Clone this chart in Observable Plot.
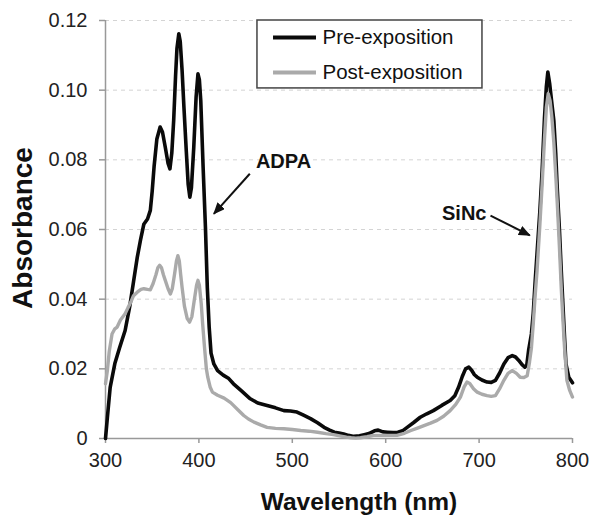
<!DOCTYPE html>
<html><head><meta charset="utf-8">
<script src="https://cdn.jsdelivr.net/npm/d3@7"></script>
<script src="https://cdn.jsdelivr.net/npm/@observablehq/plot@0.6"></script>
<style>
body{margin:0;background:#fff;font-family:"Liberation Sans",Arial,sans-serif}
[aria-label^="x-axis"] line,[aria-label^="x-axis"] path,[aria-label^="y-axis"] line,[aria-label^="y-axis"] path{stroke:#999 !important;stroke-width:1.5px}
</style>
</head><body><div id="chart"></div>
<script>
// ---- data ----
const xTicks = [300, 400, 500, 600, 700, 800];
const yTicks = [0, 0.02, 0.04, 0.06, 0.08, 0.10, 0.12];
const yTickLabels = ["0", "0.02", "0.04", "0.06", "0.08", "0.10", "0.12"];
const seriesNames = ["Pre-exposition", "Post-exposition"];
const seriesColors = ["#0a0a0a", "#aaaaaa"];

const preWl = [300,302,305,310,315,321,326,330,334,337.5,341,345,348,350,352,355,358.5,361,364,367,369,371,373,375,376.5,378.5,380,382,384,386.5,388.5,390.3,392,394.5,397,399,400.5,402,404.5,407,409,411,413,416,420,426,432,437,445,455,463,473,482,491,498,505,512,519.5,527,534,540,545,550,555,560,566,572,577,582,588,592,597,602,608,613,618,623,630,637,644,651,660,669,674,678,682,685.5,689,692,695,698,703,708.5,713,717.5,722,726.5,731,735.5,739,742.5,746,749,751,753,756,758,760,762,765,767.5,770,772,773.6,775.5,778,780,782,783.6,786,788,790,791.5,793,796,800];
const preAbs = [0,0.006,0.0147,0.0215,0.026,0.031,0.038,0.045,0.052,0.057,0.0615,0.063,0.0655,0.071,0.078,0.086,0.0894,0.088,0.0836,0.079,0.0774,0.082,0.0913,0.104,0.112,0.1162,0.114,0.1057,0.095,0.0825,0.073,0.0693,0.072,0.0836,0.098,0.1047,0.103,0.097,0.078,0.0607,0.0434,0.032,0.0245,0.0214,0.0195,0.0182,0.0172,0.0157,0.0138,0.0114,0.0102,0.0095,0.0088,0.008,0.0079,0.0076,0.0067,0.0057,0.0045,0.0032,0.0024,0.0018,0.0016,0.0013,0.0009,0.0006,0.0008,0.0011,0.0014,0.0022,0.0024,0.0019,0.0018,0.0017,0.0018,0.0022,0.0032,0.0046,0.0061,0.0071,0.008,0.0095,0.0109,0.0123,0.0147,0.0178,0.020,0.0205,0.0196,0.0183,0.0176,0.0168,0.0162,0.0161,0.0167,0.0188,0.0214,0.0232,0.0238,0.0234,0.0224,0.0212,0.0205,0.021,0.0253,0.030,0.036,0.045,0.053,0.065,0.077,0.092,0.101,0.1052,0.102,0.096,0.0913,0.082,0.0722,0.060,0.048,0.037,0.029,0.0214,0.0176,0.016];

const postWl = [300,302,304,307,310,312.5,316,321,324,327,330,334,338,341,345,348,351,354,356,358,360,362,364,367,369.5,371.5,374,376,377.5,379,380.5,382,384.5,387.5,390,392.5,395,397.5,399,400.5,402.5,404,406,408,409.5,412,414.5,420,427,434,437,442,448,453,459,466,473,482,491,500,509,518,527,536,544,552,558,563,568,573,580,587,594,602,612,620,627,634,641,648,655,662,669,675,680,684,687,690,694,698,703,708.5,713,717.5,722,726.5,731,735.5,740,744,748,751.5,754,756,758,760,762,765,767.5,770,772,774,776,778,780,782,784,786,788,790,791.5,794,797,800];
const postAbs = [0.0157,0.0195,0.025,0.030,0.0315,0.032,0.034,0.0358,0.0375,0.0391,0.041,0.042,0.0428,0.043,0.0428,0.0427,0.0445,0.047,0.049,0.0497,0.049,0.047,0.0454,0.043,0.0415,0.043,0.0473,0.051,0.0525,0.051,0.047,0.0434,0.038,0.0344,0.0334,0.035,0.0396,0.044,0.0454,0.044,0.0387,0.033,0.0262,0.020,0.0176,0.0148,0.0133,0.0124,0.0116,0.0103,0.0095,0.0082,0.0066,0.0056,0.0047,0.0039,0.0032,0.0029,0.0028,0.0026,0.0023,0.0021,0.0018,0.0014,0.0011,0.0007,0.0004,0.0002,0.0001,0.0002,0.0005,0.0009,0.0009,0.0009,0.0009,0.0015,0.0023,0.003,0.0037,0.0044,0.0052,0.0064,0.008,0.0098,0.0119,0.0148,0.0162,0.0158,0.0143,0.0133,0.0127,0.0123,0.0121,0.0123,0.0143,0.0167,0.0187,0.0195,0.0187,0.0176,0.0175,0.018,0.022,0.026,0.033,0.041,0.048,0.061,0.073,0.086,0.095,0.099,0.097,0.092,0.085,0.076,0.066,0.055,0.043,0.033,0.026,0.0167,0.0138,0.0119];

const annotationLabels = ["ADPA", "SiNc"];
const annotationX = [490.6, 707.9];
const annotationY = [0.0794, 0.0646];
const arrowFromX = [454.5, 712.2];
const arrowFromY = [0.076, 0.064];
const arrowToX = [416, 754.3];
const arrowToY = [0.0645, 0.0583];

// ---- build ----
const pre = preWl.map((x, i) => ({x, y: preAbs[i]}));
const post = postWl.map((x, i) => ({x, y: postAbs[i]}));
const annotations = annotationLabels.map((label, i) => ({label, x: annotationX[i], y: annotationY[i], anchor: i === 0 ? "middle" : "end"}));
const arrows = arrowFromX.map((x1, i) => ({x1, y1: arrowFromY[i], x2: arrowToX[i], y2: arrowToY[i]}));

// legend layout (in data units, inside the frame)
const legBox = {x1: 462.7, x2: 703.6, y1: 0.1005, y2: 0.12};
const legRowY = [0.1151, 0.1051];
const legLineX = [479.9, 525.9];
const legTextX = 532.3;
const legend = seriesNames.map((label, i) => ({label, color: seriesColors[i], y: legRowY[i]}));

const font = '"Liberation Sans", Arial, sans-serif';
const plot = Plot.plot({
  width: 592, height: 517,
  marginLeft: 105, marginRight: 20, marginTop: 20, marginBottom: 79,
  style: {fontFamily: font, fontSize: "20px", color: "#222", background: "white", overflow: "visible"},
  x: {domain: [300, 800], ticks: xTicks, tickFormat: d => String(d), tickSize: 5, tickPadding: 9, label: null},
  y: {domain: [0, 0.12], ticks: yTicks, tickFormat: d => yTickLabels[yTicks.indexOf(d)], tickSize: 6, tickPadding: 12, label: null},
  marks: [
    Plot.ruleY(yTicks.slice(1), {stroke: "#d4d4d4", strokeDasharray: "4,4", strokeWidth: 1}),
    Plot.ruleX([xTicks[0]], {stroke: "#999", strokeWidth: 1.5}),
    Plot.ruleY([yTicks[0]], {stroke: "#999", strokeWidth: 1.5}),
    Plot.line(pre, {x: "x", y: "y", stroke: seriesColors[0], strokeWidth: 3.6, strokeLinejoin: "round"}),
    Plot.line(post, {x: "x", y: "y", stroke: seriesColors[1], strokeWidth: 3.4, strokeLinejoin: "round"}),
    Plot.rect([legBox], {x1: "x1", x2: "x2", y1: "y1", y2: "y2", fill: "white", stroke: "#444", strokeWidth: 1.5}),
    Plot.ruleY(legend, {y: "y", x1: legLineX[0], x2: legLineX[1], stroke: "color", strokeWidth: 4}),
    Plot.text(legend, {x: legTextX, y: "y", text: "label", textAnchor: "start", lineAnchor: "middle", fontSize: 20.5, fill: "#111"}),
    Plot.link(arrows, {x1: "x1", y1: "y1", x2: "x2", y2: "y2", stroke: "#111", strokeWidth: 2}),
    Plot.text(annotations.slice(0, 1), {x: "x", y: "y", text: "label", textAnchor: "middle", fontSize: 20, fontWeight: "bold", fill: "#111"}),
    Plot.text(annotations.slice(1), {x: "x", y: "y", text: "label", textAnchor: "end", fontSize: 20, fontWeight: "bold", fill: "#111"}),
    Plot.text(["Absorbance"], {frameAnchor: "left", textAnchor: "middle", lineAnchor: "middle", rotate: -90, dx: -82, dy: -1.5, fontSize: 28, fontWeight: "bold", fill: "#111"}),
    Plot.text(["Wavelength (nm)"], {frameAnchor: "bottom", textAnchor: "middle", lineAnchor: "middle", dx: 20, dy: 64, fontSize: 24.5, fontWeight: "bold", fill: "#111"})
  ]
});

const svg = d3.select(plot);
const defs = svg.append("defs");
defs.append("marker").attr("id", "ah")
  .attr("viewBox", "0 0 12 10").attr("refX", 11).attr("refY", 5)
  .attr("markerWidth", 12).attr("markerHeight", 10)
  .attr("markerUnits", "userSpaceOnUse").attr("orient", "auto")
  .append("path").attr("d", "M0,0L12,5L0,10Z").attr("fill", "#111");
svg.selectAll('g[aria-label="link"] path').attr("marker-end", "url(#ah)");

document.getElementById("chart").appendChild(plot);
</script>
</body></html>
